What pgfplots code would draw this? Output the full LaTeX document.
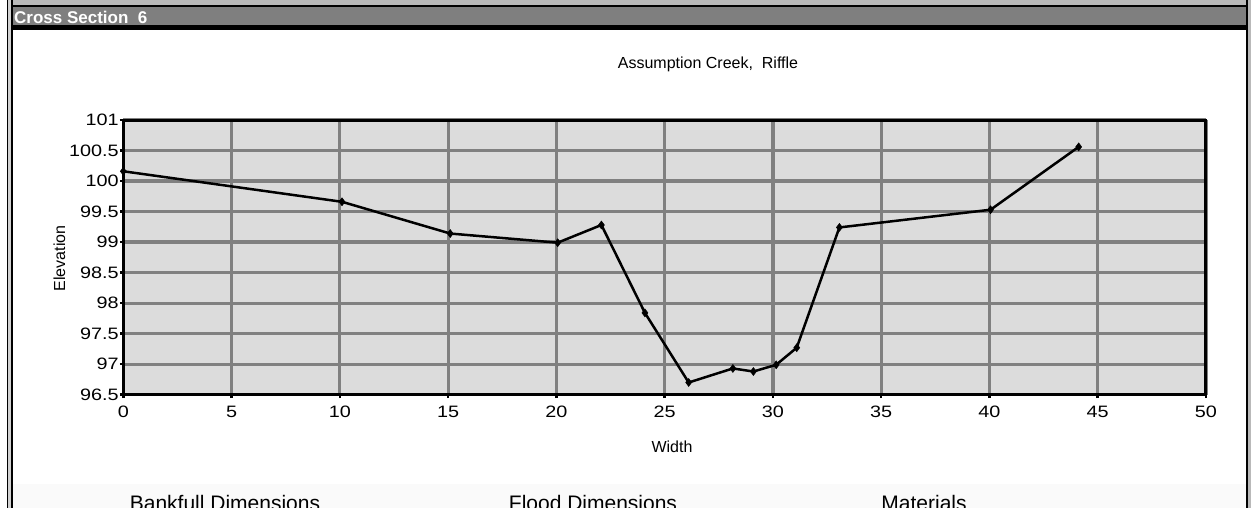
\documentclass[border=0pt]{standalone}
\usepackage{pgfplots}
\pgfplotsset{compat=1.18}
\usepackage{fontspec}
\setmainfont{Liberation Sans}
\newfontfamily\tickfont[FakeStretch=1.2]{Liberation Sans}
\definecolor{bargray}{HTML}{7F7F7F}
\definecolor{plotbg}{HTML}{DCDCDC}
\definecolor{gridgray}{HTML}{808080}
\begin{document}
\begin{tikzpicture}
\useasboundingbox (0,0) rectangle (1251pt,-508pt);
\begin{scope}
\clip (0,0) rectangle (1251pt,-508pt);
\begin{scope}[x=1pt,y=-1pt]
  % bottom faint band
  \fill[gray!4] (12,484) rectangle (1246,508);
  % top strip
  \fill[gray!55] (12,0) rectangle (1251,5);
  % title bar
  \fill[black] (12,5) rectangle (1246,7);
  \fill[bargray] (12,7) rectangle (1246,25);
  \fill[black] (12,25) rectangle (1246,30);
  \node[anchor=base west, inner sep=0pt, text=white, font=\fontsize{17}{19}\selectfont\bfseries] at (14,24) {Cross Section\ \ 6};
  % left double border
  \fill[gray!35] (7,0) rectangle (12,508);
  \draw[line width=1.6pt] (7.3,0) -- (7.3,508);
  \draw[line width=1.6pt] (11.7,0) -- (11.7,508);
  % right border
  \fill[gray!55] (1246,0) rectangle (1251,508);
  \draw[line width=2.2pt] (1247.3,0) -- (1247.3,508);
  % texts
  \node[anchor=base, inner sep=0pt, font=\fontsize{16}{18}\selectfont] at (708,69) {Assumption Creek,\ \ Riffle};
  \node[anchor=base, inner sep=0pt, font=\fontsize{16}{18}\selectfont] at (672,452) {Width};
  \node[anchor=base, inner sep=0pt, rotate=90, font=\fontsize{16}{18}\selectfont] at (65,258.5) {Elevation};
  \node[anchor=base, inner sep=0pt, font=\fontsize{21}{23}\selectfont] at (225,510) {Bankfull Dimensions};
  \node[anchor=base, inner sep=0pt, font=\fontsize{21}{23}\selectfont] at (593,510) {Flood Dimensions};
  \node[anchor=base, inner sep=0pt, font=\fontsize{21}{23}\selectfont] at (924,510) {Materials};
\end{scope}
\begin{axis}[
  at={(123.3pt,-394.7pt)}, anchor=south west,
  scale only axis, width=1082.7pt, height=274.7pt,
  xmin=0, xmax=50, ymin=96.5, ymax=101,
  xtick distance=5, ytick distance=0.5,
  axis background/.style={fill=plotbg},
  grid=major,
  major grid style={line width=3.2pt, color=gridgray},
  axis line style={line width=3pt, black},
  tick align=outside, major tick length=3.5pt,
  tick style={line width=2.5pt, black},
  xtick pos=bottom, ytick pos=left,
  tick label style={font=\tickfont\fontsize{16.5}{18}\selectfont},
  /pgf/number format/assume math mode=true,
  yticklabel style={inner sep=1pt, /pgf/number format/fixed},
  xticklabel style={yshift=-4pt},
  clip=false,
]
\addplot[black, line width=2.5pt, mark=diamond*, mark size=4pt, mark options={solid, fill=black, line width=0.5pt}] coordinates {
(0,100.16)
(10.1,99.66)
(15.1,99.14)
(20.06,98.99)
(22.08,99.28)
(24.09,97.84)
(26.11,96.70)
(28.15,96.93)
(29.1,96.88)
(30.15,96.99)
(31.1,97.27)
(33.07,99.24)
(40.05,99.53)
(44.12,100.56)
};
\end{axis}
\end{scope}
\end{tikzpicture}
\end{document}
